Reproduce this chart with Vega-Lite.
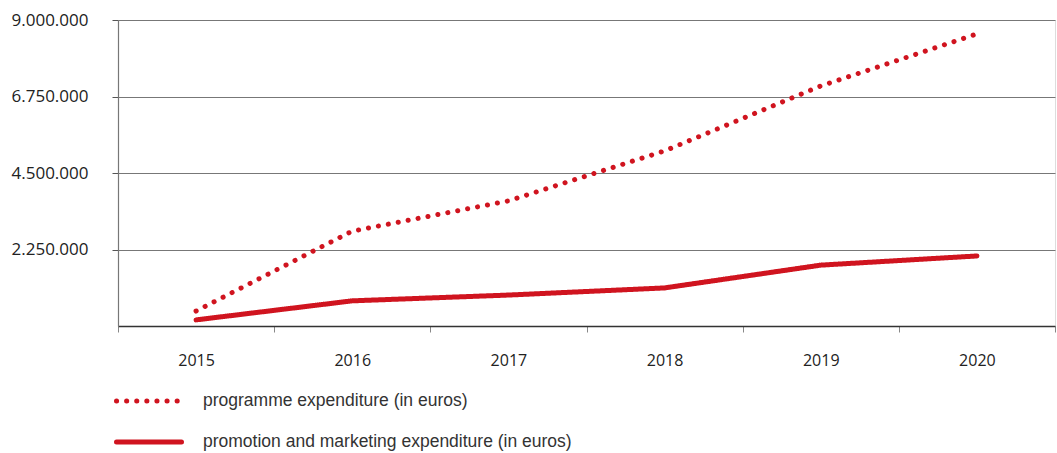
{
  "$schema": "https://vega.github.io/schema/vega-lite/v6.json",
  "autosize": "none",
  "width": 937,
  "height": 306,
  "padding": {"left": 118, "top": 20, "right": 2, "bottom": 127},
  "background": "white",
  "data": {
    "values": [
      {"year": "2015", "series": "programme expenditure (in euros)", "value": 440000},
      {"year": "2016", "series": "programme expenditure (in euros)", "value": 2790000},
      {"year": "2017", "series": "programme expenditure (in euros)", "value": 3680000},
      {"year": "2018", "series": "programme expenditure (in euros)", "value": 5150000},
      {"year": "2019", "series": "programme expenditure (in euros)", "value": 7060000},
      {"year": "2020", "series": "programme expenditure (in euros)", "value": 8590000},
      {"year": "2015", "series": "promotion and marketing expenditure (in euros)", "value": 180000},
      {"year": "2016", "series": "promotion and marketing expenditure (in euros)", "value": 740000},
      {"year": "2017", "series": "promotion and marketing expenditure (in euros)", "value": 910000},
      {"year": "2018", "series": "promotion and marketing expenditure (in euros)", "value": 1120000},
      {"year": "2019", "series": "promotion and marketing expenditure (in euros)", "value": 1790000},
      {"year": "2020", "series": "promotion and marketing expenditure (in euros)", "value": 2060000}
    ]
  },
  "mark": {"type": "line", "color": "#d0141f", "strokeWidth": 5, "strokeCap": "round"},
  "encoding": {
    "x": {
      "field": "year", "type": "ordinal",
      "scale": {"paddingInner": 0, "paddingOuter": 0},
      "axis": {
        "title": null, "labelAngle": 0, "tickBand": "extent",
        "domainColor": "#333", "domainWidth": 1.5, "tickColor": "#888", "tickSize": 6,
        "labelPadding": 20, "labelFont": "Open Sans", "labelFontSize": 16,
        "labelColor": "#222", "grid": false
      }
    },
    "y": {
      "field": "value", "type": "quantitative",
      "scale": {"domain": [0, 9000000], "nice": false},
      "axis": {
        "title": null, "values": [2250000, 4500000, 6750000, 9000000],
        "labelExpr": "replace(format(datum.value, ',d'), /,/g, '.')",
        "gridColor": "#777", "gridWidth": 1.2, "tickColor": "#555", "tickSize": 6,
        "domainColor": "#777", "domainWidth": 1.2,
        "labelPadding": 24, "labelFont": "Open Sans", "labelFontSize": 17,
        "labelColor": "#222"
      }
    },
    "strokeDash": {
      "field": "series", "type": "nominal",
      "scale": {"range": [[0.1, 10], [1, 0]]},
      "legend": {
        "title": null, "orient": "none", "legendX": 22, "legendY": 372,
        "symbolType": "M-5,0H5", "symbolSize": 169, "symbolStrokeWidth": 5,
        "symbolStrokeColor": "#d0141f",
        "labelFont": "Liberation Sans", "labelFontSize": 17.5, "labelColor": "#333",
        "labelOffset": 45, "rowPadding": 21, "labelLimit": 700,
        "encode": {"symbols": {"update": {"strokeCap": {"value": "round"}}}}
      }
    }
  }
}
